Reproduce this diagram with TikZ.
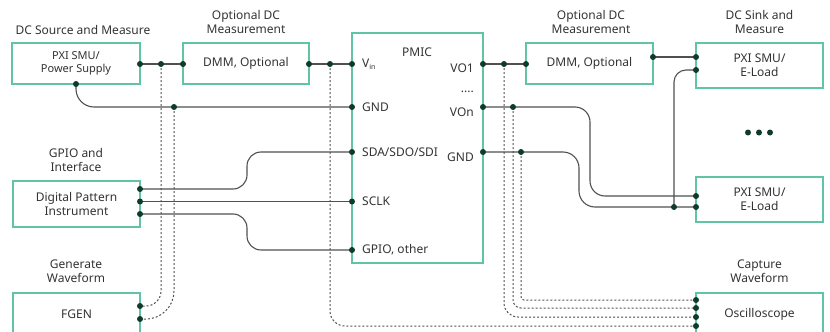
\documentclass[tikz,border=0pt]{standalone}
\usepackage{fontspec}
\setmainfont{Noto Sans}
\definecolor{boxc}{HTML}{62C4A7}
\definecolor{wirec}{HTML}{505050}
\definecolor{dotc}{HTML}{0E3B2C}
\definecolor{txtc}{HTML}{333333}
\begin{document}
\begin{tikzpicture}[x=1pt,y=-1pt,
  box/.style={draw=boxc, line width=1.3pt, fill=white, inner sep=0pt, align=center,
    font=\fontsize{12}{14}\selectfont, text=txtc},
  ttl/.style={align=center, font=\fontsize{12}{14}\selectfont, text=txtc, inner sep=0pt},
  pin/.style={font=\fontsize{12}{14}\selectfont, text=txtc, inner sep=0pt},
  wire/.style={draw=wirec, line width=1.1pt},
  dwire/.style={draw=wirec, line width=1pt, dash pattern=on 2pt off 2pt},
  jdot/.style={circle, fill=dotc, inner sep=0pt, minimum size=6pt}]
\useasboundingbox (0,0) rectangle (830,332);
\clip (0,0) rectangle (830,332);

% boxes
\node[box, minimum width=128pt, minimum height=41pt, font=\fontsize{11}{13}\selectfont] (psu) at (76,63.5) {PXI SMU/\\Power Supply};
\node[box, minimum width=126pt, minimum height=41pt] (dmmA) at (246,63.5) {DMM, Optional};
\node[box, minimum width=131pt, minimum height=230pt] (pmic) at (417.5,148) {};
\node[box, minimum width=127pt, minimum height=41pt] (dmmB) at (589.5,63.5) {DMM, Optional};
\node[box, minimum width=127pt, minimum height=45pt] (loadA) at (759.5,65.5) {PXI SMU/\\E-Load};
\node[box, minimum width=127pt, minimum height=45pt] (loadB) at (759.5,199.5) {PXI SMU/\\E-Load};
\node[box, minimum width=127pt, minimum height=46pt] (dpi) at (76.5,204) {Digital Pattern\\Instrument};
\node[box, minimum width=127pt, minimum height=42pt] (fgen) at (76.5,314) {FGEN};
\node[box, minimum width=127pt, minimum height=42pt] (osc) at (759.5,314) {Oscilloscope};

% titles
\node[ttl] (tA) at (83,30) {DC Source and Measure};
\node[ttl] (tB) at (246,22) {Optional DC\\Measurement};
\node[ttl] (tC) at (591,22) {Optional DC\\Measurement};
\node[ttl] (tD) at (759.5,22) {DC Sink and\\Measure};
\node[ttl] (tE) at (76,160) {GPIO and\\Interface};
\node[ttl] (tF) at (76,271) {Generate\\Waveform};
\node[ttl] (tG) at (759.5,271.5) {Capture\\Waveform};
\node[ttl] (tP) at (417,52) {PMIC};

% pin labels
\node[pin, anchor=west] (lVin) at (362,64) {V\raisebox{-0.35ex}{\fontsize{7}{8}\selectfont in}};
\node[pin, anchor=west] (lGnd) at (362,107.5) {GND};
\node[pin, anchor=west] (lSda) at (362,152.5) {SDA/SDO/SDI};
\node[pin, anchor=west] (lSclk) at (362,201.5) {SCLK};
\node[pin, anchor=west] (lGpio) at (362,250) {GPIO, other};
\node[pin, anchor=east] (lVo1) at (474,68) {VO1};
\node[pin, anchor=east] (lDots) at (474,91.5) {....};
\node[pin, anchor=east] (lVon) at (474,112) {VOn};
\node[pin, anchor=east] (lGndR) at (474,157) {GND};

% connection points
\coordinate (psuE) at (140,64);
\coordinate (psuS) at (76,84);
\coordinate (dmmAW) at (183,64);
\coordinate (dmmAE) at (309,64);
\coordinate (j1) at (161,64);
\coordinate (j2) at (330,64);
\coordinate (j3) at (174,107);
\coordinate (vin) at (352,64);
\coordinate (gndL) at (352,107);
\coordinate (sda) at (352,152);
\coordinate (sclk) at (352,201.5);
\coordinate (gpio) at (352,250);
\coordinate (dpiA) at (140,189);
\coordinate (dpiB) at (140,201.5);
\coordinate (dpiC) at (140,214);
\coordinate (fgA) at (140,306);
\coordinate (fgB) at (140,319);
\coordinate (vo1) at (483,64);
\coordinate (von) at (483,107);
\coordinate (gndR) at (483,152);
\coordinate (j4) at (504,64);
\coordinate (j5) at (513,107);
\coordinate (j6) at (521,152);
\coordinate (dmmBW) at (526,64);
\coordinate (dmmBE) at (653,57);
\coordinate (ldA1) at (696,57);
\coordinate (ldA2) at (696,70);
\coordinate (ldB1) at (696,196);
\coordinate (ldB2) at (696,207);
\coordinate (j7) at (674,207);
\coordinate (osA) at (696,300);
\coordinate (osB) at (696,308);
\coordinate (osC) at (696,317);
\coordinate (osD) at (696,326);

% dashed probes
\draw[dwire, rounded corners=15pt] (j1) |- (fgA);
\draw[dwire, rounded corners=28pt] (j3) |- (fgB);
\draw[dwire, rounded corners=15pt] (j2) |- (osD);
\draw[dwire, rounded corners=14pt] (j4) |- (osC);
\draw[dwire, rounded corners=8pt] (j5) |- (osB);
\draw[dwire, rounded corners=3pt] (j6) |- (osA);

% solid wires
\draw[wire] (psuE) -- (dmmAW);
\draw[wire] (dmmAE) -- (vin);
\draw[wire, rounded corners=18pt] (psuS) |- (gndL);
\draw[wire, rounded corners=14pt] (dpiA) -- (247,189) -- (247,152) -- (sda);
\draw[wire] (dpiB) -- (sclk);
\draw[wire, rounded corners=14pt] (dpiC) -- (247,214) -- (247,250) -- (gpio);
\draw[wire] (vo1) -- (dmmBW);
\draw[wire] (dmmBE) -- (ldA1);
\draw[wire, rounded corners=15pt] (von) -- (590,107) -- (590,196) -- (ldB1);
\draw[wire, rounded corners=16pt] (gndR) -- (579,152) -- (579,207) -- (ldB2);
\draw[wire, rounded corners=12pt] (ldA2) -| (j7);

% dots
\foreach \p in {psuE,psuS,dmmAW,dmmAE,j1,j2,j3,vin,gndL,sda,sclk,gpio,dpiA,dpiB,dpiC,
  fgA,fgB,vo1,von,gndR,j4,j5,j6,dmmBW,dmmBE,ldA1,ldA2,ldB1,ldB2,j7,osA,osB,osC,osD}
  \node[jdot] (d\p) at (\p) {};

% ellipsis
\node[jdot, minimum size=6pt] (e1) at (748,132.5) {};
\node[jdot, minimum size=6pt] (e2) at (759,132.5) {};
\node[jdot, minimum size=6pt] (e3) at (770,132.5) {};
\end{tikzpicture}
\end{document}
